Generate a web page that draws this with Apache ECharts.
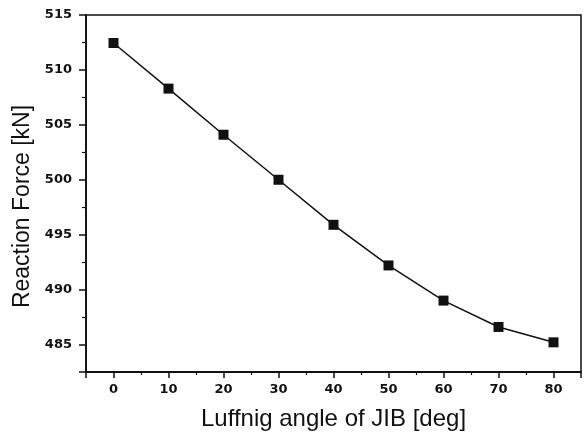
<!DOCTYPE html>
<html>
<head>
<meta charset="utf-8">
<script src="https://cdn.jsdelivr.net/npm/echarts@6/dist/echarts.min.js"></script>
<style>
  html, body { margin: 0; padding: 0; background: #fff; }
  #chart { width: 584px; height: 437px; }
</style>
</head>
<body>
<div id="chart"></div>
<script>
const angles = [0, 10, 20, 30, 40, 50, 60, 70, 80]
const reactionForce = [512.45, 508.3, 504.1, 500.0, 495.9, 492.2, 489.0, 486.6, 485.2]

const ink = '#111'
const tickFont = "'DejaVu Sans', sans-serif"
const nameFont = "'Liberation Sans', Arial, sans-serif"

const chart = echarts.init(document.getElementById('chart'))

chart.setOption({
  animation: false,
  backgroundColor: '#fff',
  grid: {
    left: 86, right: 2, top: 15, bottom: 65,
    show: true, borderColor: ink, borderWidth: 1.5,
  },
  xAxis: {
    type: 'value',
    min: -5,
    max: 85,
    minInterval: 10,
    maxInterval: 10,
    name: 'Luffnig angle of JIB [deg]',
    nameLocation: 'middle',
    nameGap: 35,
    nameTextStyle: { color: ink, fontFamily: nameFont, fontSize: 24 },
    axisLine: { onZero: false, lineStyle: { color: ink, width: 1.8 } },
    axisTick: { inside: false, length: 6, lineStyle: { color: ink, width: 1.5 } },
    minorTick: { show: true, splitNumber: 2, length: 3, lineStyle: { color: ink, width: 1.2 } },
    splitLine: { show: false },
    axisLabel: {
      margin: 11,
      color: ink,
      fontFamily: tickFont,
      fontWeight: 'bold',
      fontSize: 13,
      formatter: v => (v % 10 === 0 ? String(v) : ''),
    },
  },
  yAxis: {
    type: 'value',
    min: 482.5,
    max: 515,
    minInterval: 5,
    maxInterval: 5,
    name: 'Reaction Force [kN]',
    nameLocation: 'middle',
    nameGap: 48,
    nameTextStyle: { color: ink, fontFamily: nameFont, fontSize: 23, padding: [0, 26, 0, 0] },
    axisLine: { onZero: false, lineStyle: { color: ink, width: 1.8 } },
    axisTick: { inside: false, length: 7, lineStyle: { color: ink, width: 1.5 } },
    minorTick: { show: true, splitNumber: 2, length: 4, lineStyle: { color: ink, width: 1.2 } },
    splitLine: { show: false },
    axisLabel: {
      margin: 14,
      color: ink,
      fontFamily: tickFont,
      fontWeight: 'bold',
      fontSize: 13,
      formatter: v => (v % 5 === 0 ? String(v) : ''),
    },
  },
  series: [
    {
      type: 'line',
      data: angles.map((a, i) => [a, reactionForce[i]]),
      symbol: 'rect',
      symbolSize: 10,
      lineStyle: { color: ink, width: 1.5 },
      itemStyle: { color: ink },
    },
  ],
})
</script>
</body>
</html>
